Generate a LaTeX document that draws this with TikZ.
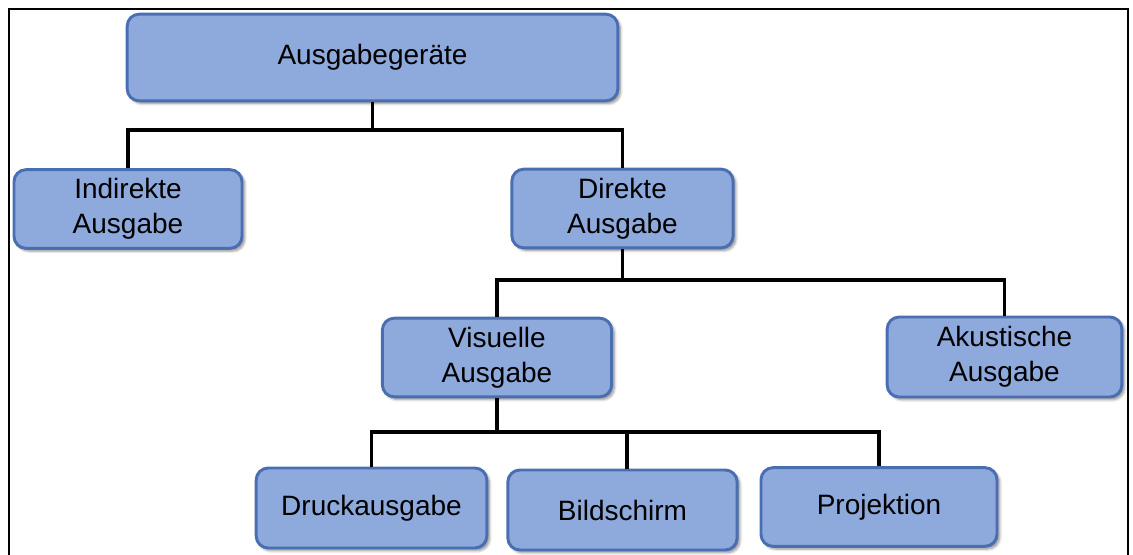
\documentclass[tikz,border=0pt]{standalone}
\usepackage{fontspec}
\setmainfont{Liberation Sans}
\usetikzlibrary{shadows.blur}
\definecolor{boxfill}{RGB}{142,169,219}
\definecolor{boxline}{RGB}{74,110,178}
\begin{document}
\begin{tikzpicture}[x=0.75pt,y=-0.75pt,
  box/.style={draw=boxline, line width=2.2pt, fill=boxfill, rounded corners=9pt,
    align=center, inner sep=0pt,
    font=\fontsize{21}{26}\selectfont,
    blur shadow={shadow xshift=2pt, shadow yshift=-2pt, shadow blur steps=6, shadow opacity=45, shadow blur radius=2pt}},
  link/.style={line width=2.4pt, black},
  frameline/.style={line width=1.1pt, black}]
\useasboundingbox (0,0) rectangle (1133,554);
% outer frame, open at the bottom
\draw[frameline] (9,580) -- (9,9) -- (1128,9) -- (1128,580);

% boxes
\node[box, minimum width=368pt, minimum height=65pt] (root) at (372.5,57.5) {Ausgabegeräte};
\node[box, minimum width=171pt, minimum height=59pt] (ind) at (128,209) {Indirekte\\Ausgabe};
\node[box, minimum width=166pt, minimum height=59pt] (dir) at (622.5,208.5) {Direkte\\Ausgabe};
\node[box, minimum width=172pt, minimum height=59pt] (vis) at (497,357.5) {Visuelle\\Ausgabe};
\node[box, minimum width=176pt, minimum height=60pt] (aku) at (1004.5,357) {Akustische\\Ausgabe};
\node[box, minimum width=173pt, minimum height=60pt] (dru) at (371.5,508) {Druckausgabe};
\node[box, minimum width=172pt, minimum height=60pt] (bil) at (622.5,510) {Bildschirm};
\node[box, minimum width=177pt, minimum height=59pt] (pro) at (879,507) {Projektion};

% connectors
\coordinate (j1) at (372.5,130);
\coordinate (j2) at (622.5,280);
\coordinate (j3) at (497,432);
\coordinate (bt) at (627,432);
\begin{scope}[on background layer/.try]
\draw[link] (root.south) -- (j1);
\draw[link] (ind.north) |- (j1) -| (dir.north);
\draw[link] (dir.south) -- (j2);
\draw[link] (vis.north) |- (j2) -| (aku.north);
\draw[link] (vis.south) -- (j3);
\draw[link] (dru.north) |- (j3) -| (pro.north);
\draw[link] (bt) -- (bt |- bil.north);
\end{scope}
\end{tikzpicture}
\end{document}
